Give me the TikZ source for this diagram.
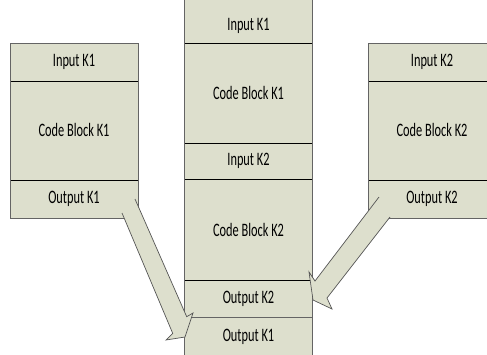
\documentclass[tikz,border=0pt]{standalone}
\usepackage{fontspec}
\setmainfont{Carlito}
\newfontfamily\cellfont[FakeStretch=0.65]{Carlito}
\definecolor{cellfill}{RGB}{221,223,205}
\definecolor{rimgray}{RGB}{100,100,100}
\definecolor{arrowline}{RGB}{85,85,85}
\begin{document}
\begin{tikzpicture}[x=1pt,y=-1pt,
  lbl/.style={font=\cellfont\fontsize{19}{21}\selectfont, inner sep=0pt, text=black},
  divider/.style={draw=black, line width=0.8pt},
  rim/.style={draw=rimgray, line width=0.9pt},
  blockarrow/.style={draw=arrowline, line width=0.7pt, line join=miter}]
\useasboundingbox (0,0) rectangle (487,354);
\clip (0,0) rectangle (487,354);
% ---------- left column ----------
\fill[cellfill] (10,43) rectangle (138,218);
\draw[divider] (10,81) -- (138,81);
\draw[divider] (10,180) -- (138,180);
\draw[rim] (10,43) rectangle (138,218);
\node[lbl] (lin) at (74,62) {Input K1};
\node[lbl] (lcode) at (74,130) {Code Block K1};
\node[lbl] (lout) at (74,199) {Output K1};
% ---------- right column ----------
\fill[cellfill] (368,43) rectangle (496,218);
\draw[divider] (368,81) -- (496,81);
\draw[divider] (368,180) -- (496,180);
\draw[rim] (368,43) rectangle (496,218);
\node[lbl] (rin) at (432,62) {Input K2};
\node[lbl] (rcode) at (432,130) {Code Block K2};
\node[lbl] (rout) at (432,199) {Output K2};
% ---------- middle column ----------
\fill[cellfill] (184.5,-5) rectangle (312.5,360);
\draw[divider] (184.5,43) -- (312.5,43);
\draw[divider] (184.5,143) -- (312.5,143);
\draw[divider] (184.5,179) -- (312.5,179);
\draw[divider] (184.5,280) -- (312.5,280);
\draw[rim] (184.5,317) -- (312.5,317);
\draw[rim] (184.5,-5) rectangle (312.5,360);
\node[lbl] (min1) at (248.5,26) {Input K1};
\node[lbl] (mcode1) at (248.5,93) {Code Block K1};
\node[lbl] (min2) at (248.5,161) {Input K2};
\node[lbl] (mcode2) at (248.5,229.5) {Code Block K2};
\node[lbl] (mout2) at (248.5,298.5) {Output K2};
\node[lbl] (mout1) at (248.5,337) {Output K1};
% ---------- left block arrow ----------
\coordinate (la-t1) at (122,213);
\coordinate (la-s1) at (172.7,333.3);
\coordinate (la-b1) at (166,340);
\coordinate (la-tip) at (185,337);
\coordinate (la-b2) at (193,313);
\coordinate (la-s2) at (186.7,316.7);
\coordinate (la-t2) at (135,199);
\fill[cellfill] (la-t1) -- (la-s1) -- (la-b1) -- (la-tip) -- (la-b2) -- (la-s2) -- (la-t2) -- cycle;
\draw[blockarrow] (la-t1) -- (la-s1) -- (la-b1) -- (la-tip) -- (la-b2) -- (la-s2) -- (la-t2);
% ---------- right block arrow ----------
\coordinate (ra-t1) at (379,197);
\coordinate (ra-s1) at (315,281);
\coordinate (ra-b1) at (309,272);
\coordinate (ra-tip) at (313,300);
\coordinate (ra-b2) at (332,309);
\coordinate (ra-s2) at (327,298);
\coordinate (ra-t2) at (390,217);
\fill[cellfill] (ra-t1) -- (ra-s1) -- (ra-b1) -- (ra-tip) -- (ra-b2) -- (ra-s2) -- (ra-t2) -- cycle;
\draw[blockarrow] (ra-t1) -- (ra-s1) -- (ra-b1) -- (ra-tip) -- (ra-b2) -- (ra-s2) -- (ra-t2);
\end{tikzpicture}
\end{document}
